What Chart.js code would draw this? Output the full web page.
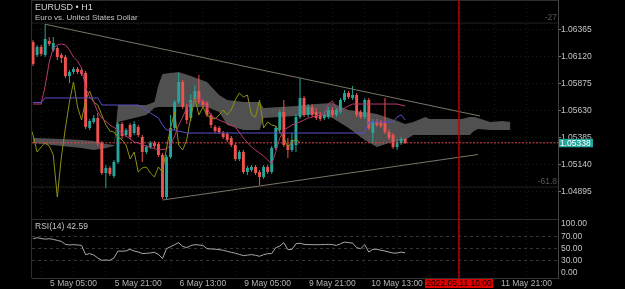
<!DOCTYPE html>
<html><head><meta charset="utf-8">
<script src="https://cdn.jsdelivr.net/npm/chart.js@4.4.1/dist/chart.umd.min.js"></script>
<style>
html,body{margin:0;padding:0;background:#000;overflow:hidden;}
#wrap{position:relative;width:625px;height:289px;background:#000;}
#c1{position:absolute;left:0;top:0;}
#c2{position:absolute;left:0;top:219px;}
</style></head><body>
<div id="wrap">
<canvas id="c1" width="625" height="219"></canvas>
<canvas id="c2" width="625" height="70"></canvas>
</div>
<script>
// ---------- DATA ----------
// bar index 0 = 5 May 05:00 (H1 bars); first visible candle is index -10 (4 May 19:00)
const firstBar = -10;
const opens = [1.06253,1.06135,1.06208,1.06135,1.06262,1.06180,1.06198,1.06135,1.06117,1.05944,
1.05981,1.06008,1.05999,1.05972,1.05473,1.05527,1.05563,1.05336,1.05064,1.05110,
1.05037,1.05164,1.05509,1.05409,1.05500,1.05427,1.05482,1.05391,1.05255,1.05300,
1.05336,1.05327,1.05228,1.04846,1.05209,1.05473,1.05708,1.05890,1.05663,1.05563,
1.05727,1.05808,1.05718,1.05699,1.05591,1.05482,1.05473,1.05427,1.05418,1.05382,
1.05318,1.05191,1.05255,1.05073,1.05091,1.05119,1.05073,1.05028,1.05119,1.05073,
1.05291,1.05454,1.05618,1.05318,1.05273,1.05318,1.05572,1.05745,1.05591,1.05663,
1.05618,1.05591,1.05563,1.05572,1.05636,1.05591,1.05618,1.05727,1.05790,1.05745,
1.05772,1.05618,1.05572,1.05727,1.05427,1.05527,1.05527,1.05518,1.05436,1.05409,
1.05300,1.05336,1.05373];
const highs = [1.06271,1.06226,1.06226,1.06416,1.06298,1.06298,1.06217,1.06153,1.06135,1.05999,
1.06026,1.06026,1.06017,1.05990,1.05554,1.05591,1.05609,1.05355,1.05137,1.05128,
1.05182,1.05527,1.05527,1.05473,1.05518,1.05536,1.05500,1.05409,1.05318,1.05355,
1.05355,1.05346,1.05246,1.05228,1.05591,1.05727,1.05972,1.05908,1.05690,1.05781,
1.05863,1.05953,1.05736,1.05718,1.05609,1.05500,1.05491,1.05445,1.05436,1.05400,
1.05336,1.05273,1.05273,1.05128,1.05137,1.05137,1.05091,1.05137,1.05137,1.05309,
1.05491,1.05636,1.05727,1.05382,1.05427,1.05600,1.05926,1.05763,1.05690,1.05690,
1.05654,1.05618,1.05618,1.05663,1.05663,1.05654,1.05745,1.05817,1.05808,1.05854,
1.05790,1.05636,1.05745,1.05745,1.05554,1.05554,1.05545,1.05745,1.05463,1.05427,
1.05373,1.05391,1.05382];
const lows = [1.06035,1.06117,1.06126,1.06117,1.06217,1.06162,1.06090,1.06062,1.05926,1.05881,
1.05963,1.05963,1.05944,1.05463,1.05454,1.05509,1.05309,1.05046,1.04928,1.05037,
1.05019,1.05146,1.05373,1.05391,1.05373,1.05409,1.05391,1.05164,1.05237,1.05282,
1.05291,1.05209,1.04828,1.04828,1.05191,1.05454,1.05690,1.05645,1.05509,1.05536,
1.05708,1.05690,1.05654,1.05572,1.05473,1.05427,1.05418,1.05373,1.05346,1.05300,
1.05173,1.05173,1.05055,1.05046,1.05073,1.05046,1.04955,1.05010,1.05055,1.05055,
1.05273,1.05427,1.05300,1.05200,1.05255,1.05255,1.05554,1.05572,1.05572,1.05572,
1.05545,1.05536,1.05545,1.05554,1.05572,1.05572,1.05600,1.05708,1.05736,1.05727,
1.05572,1.05554,1.05554,1.05454,1.05346,1.05482,1.05473,1.05418,1.05364,1.05282,
1.05273,1.05318,1.05327];
const closes = [1.06053,1.06208,1.06144,1.06280,1.06235,1.06244,1.06117,1.06108,1.05944,1.05981,
1.06008,1.05981,1.05963,1.05482,1.05536,1.05563,1.05336,1.05064,1.05110,1.05055,
1.05164,1.05509,1.05400,1.05454,1.05391,1.05509,1.05409,1.05255,1.05300,1.05336,
1.05309,1.05228,1.04846,1.05209,1.05473,1.05708,1.05890,1.05663,1.05545,1.05727,
1.05808,1.05708,1.05681,1.05591,1.05500,1.05445,1.05436,1.05391,1.05364,1.05318,
1.05191,1.05255,1.05073,1.05110,1.05119,1.05064,1.05028,1.05119,1.05073,1.05291,
1.05473,1.05618,1.05318,1.05273,1.05364,1.05572,1.05745,1.05591,1.05663,1.05591,
1.05563,1.05554,1.05591,1.05636,1.05591,1.05636,1.05727,1.05790,1.05754,1.05772,
1.05591,1.05572,1.05727,1.05473,1.05527,1.05500,1.05491,1.05436,1.05382,1.05300,
1.05346,1.05373,1.05338];

// Ichimoku lines (bar index -> price)
const tenkanIdx = [-10,-8,-7,-6,-5,-4,-3,-2,-1,0,1,2,3,4,5,6,7,9,11,13,15,16,18,21,23,24,25,26,27,28,29,30,32,33,34,36,40,42,44,47,49,50,51,52,54,56,58,60,62,63,64,65,66,67,69,78,80,82];
const tenkanVal = [1.05690,1.05690,1.05854,1.06071,1.06198,1.06226,1.06235,1.06226,1.06180,1.06116,
1.06080,1.06017,1.05835,1.05754,1.05708,1.05618,1.05563,1.05500,1.05454,1.05400,
1.05346,1.05336,1.05309,1.05273,1.05282,1.05318,1.05400,1.05500,1.05572,1.05654,
1.05699,1.05727,1.05727,1.05663,1.05581,1.05545,1.05482,1.05382,1.05300,1.05218,
1.05145,1.05255,1.05382,1.05454,1.05500,1.05527,1.05563,1.05581,1.05600,1.05690,
1.05717,1.05654,1.05627,1.05654,1.05690,1.05690,1.05690,1.05672];
const kijunIdx = [-10,-8,-7,6,7,16,19,21,22,23,25,28,72,73,79,80,81,82];
const kijunVal = [1.05704,1.05704,1.05745,1.05745,1.05681,1.05681,1.05609,1.05563,1.05500,1.05454,1.05454,1.05427,1.05427,1.05527,1.05527,1.05572,1.05591,1.05545];
const cloudIdx = [-10,-3,2,5,8,10,11,18,20,21,22,26,29,33,36,38,42,46,47,55,60,64,68,72,75,78,82,84,87,88,96,98,99,100,103,106,108];
const spanA = [1.05382,1.05373,1.05364,1.05355,1.05327,1.05318,1.05681,1.05681,1.05708,1.05863,
1.05963,1.05981,1.05944,1.05890,1.05772,1.05727,1.05708,1.05708,1.05654,1.05672,
1.05690,1.05699,1.05636,1.05618,1.05600,1.05563,1.05509,1.05527,1.05572,1.05554,
1.05554,1.05572,1.05572,1.05563,1.05527,1.05536,1.05527];
const spanB = [1.05336,1.05309,1.05291,1.05273,1.05291,1.05309,1.05527,1.05591,1.05654,1.05663,
1.05663,1.05663,1.05663,1.05663,1.05618,1.05500,1.05454,1.05454,1.05563,1.05581,
1.05600,1.05563,1.05473,1.05364,1.05300,1.05336,1.05364,1.05409,1.05409,1.05409,
1.05409,1.05409,1.05445,1.05463,1.05454,1.05454,1.05454];
const chikouShift = 26; // Chikou span = closes plotted 26 bars back

// RSI(14), one value per bar
const rsi = [66.6,68.3,67.0,65.9,66.6,65.5,63.7,62.0,57.0,56.0,
56.5,56.0,55.3,39.6,41.3,39.0,34.0,30.0,30.5,30.0,
33.9,45.7,45.4,46.0,48.6,45.7,44.0,41.5,41.8,42.5,
43.5,40.1,32.9,49.7,53.0,56.5,59.9,53.6,51.4,55.0,
56.5,56.0,55.3,49.7,49.3,48.8,48.1,47.0,45.2,43.5,
42.0,40.0,37.9,38.8,39.6,38.5,36.8,39.5,41.3,41.3,
51.4,54.1,59.9,48.1,48.6,58.0,59.0,57.0,56.7,56.5,
56.5,56.5,56.8,57.0,56.5,55.3,58.0,60.9,59.9,59.2,
51.4,49.7,56.5,44.0,48.6,48.6,47.0,45.7,44.0,42.3,
42.3,44.0,42.59];

// trend lines & levels
const upperTrendIdx = [-7, 100.5];
const upperTrendVal = [1.06414, 1.05581];
const lowerTrendIdx = [22, 100];
const lowerTrendVal = [1.04819, 1.05232];
const fibLevels = [1.06425, 1.04937];
const fibLabels = ['-27', '-61.8'];
const crosshairIdx = 95.3;
const crosshairLabel = '2022.05.11 10:00';

// axes
const priceTicks = [1.04895, 1.05140, 1.05385, 1.05630, 1.05875, 1.06120, 1.06365];
const rsiTicks = [0, 30, 50, 70, 100];
const gridIdx = [-8,0,8,16,24,32,40,48,56,64,72,80,88,96,104,112];
const xTickIdx = [0,16,32,48,64,80,112];
const xTickLabels = ['5 May 05:00','5 May 21:00','6 May 13:00','9 May 05:00','9 May 21:00','10 May 13:00','11 May 21:00'];

// ---------- CHART ----------
const FONT = '"Liberation Sans", Arial, sans-serif';
Chart.defaults.font.family = FONT;
Chart.defaults.font.size = 8.5;
const TEAL = '#26a69a', RED = '#ef5350';
const xMin = -10.26, xMax = 119.78;
const yMin = 1.046468, yMax = 1.06634;
const lastPrice = closes[closes.length - 1];

const barX = k => firstBar + k;
const colors = closes.map((c, k) => c >= opens[k] ? TEAL : RED);
const pts = (ix, vals) => ix.map((x, i) => ({x, y: vals[i]}));

const lineDs = (data, color, order, extra) => Object.assign({
  type: 'line', data, borderColor: color, borderWidth: 1, pointRadius: 0,
  fill: false, tension: 0, order
}, extra || {});

const mainDatasets = [
  lineDs(pts([xMin, xMax], [lastPrice, lastPrice]), '#e0484f', 0, {borderDash: [2, 1.5]}),
  lineDs(pts(tenkanIdx, tenkanVal), '#b8386f', 1),
  lineDs(pts(kijunIdx, kijunVal), '#5a4fc8', 1),
  lineDs(closes.map((c, k) => ({x: barX(k) - chikouShift, y: c})), '#8f8f12', 1),
  lineDs(pts(upperTrendIdx, upperTrendVal), '#7d7568', 2),
  lineDs(pts(lowerTrendIdx, lowerTrendVal), '#7d7568', 2),
  lineDs(pts([xMin, xMax], [fibLevels[0], fibLevels[0]]), '#222222', 9),
  lineDs(pts([xMin, xMax], [fibLevels[1], fibLevels[1]]), '#222222', 9),
  {type: 'bar', data: closes.map((c, k) => ({x: barX(k), y: [opens[k], c]})),
   backgroundColor: colors, grouped: false, maxBarThickness: 3, minBarLength: 1, borderWidth: 0, order: 4},
  {type: 'bar', data: closes.map((c, k) => ({x: barX(k), y: [lows[k], highs[k]]})),
   backgroundColor: colors, grouped: false, maxBarThickness: 1, borderWidth: 0, order: 5},
  lineDs(pts(cloudIdx, spanA), 'rgba(0,0,0,0)', 10, {borderWidth: 0, fill: '+1', backgroundColor: 'rgba(100,100,100,0.8)'}),
  lineDs(pts(cloudIdx, spanB), 'rgba(0,0,0,0)', 11, {borderWidth: 0})
];

const overlayMain = {
  id: 'overlayMain',
  afterDraw(chart) {
    const {ctx, chartArea: a, scales: {x, y}} = chart;
    ctx.save();
    ctx.strokeStyle = '#2e2e2e'; ctx.lineWidth = 1;
    ctx.beginPath();
    ctx.moveTo(a.left - 0.5, 0); ctx.lineTo(a.left - 0.5, a.bottom);
    ctx.moveTo(a.left, 0.5); ctx.lineTo(a.right, 0.5);
    ctx.stroke();
    // crosshair
    const cx = x.getPixelForValue(crosshairIdx);
    ctx.strokeStyle = '#c00000'; ctx.lineWidth = 1.5;
    ctx.beginPath(); ctx.moveTo(cx, a.top); ctx.lineTo(cx, a.bottom); ctx.stroke();
    // fib labels
    ctx.font = '8.5px ' + FONT; ctx.fillStyle = '#555555';
    ctx.textAlign = 'right'; ctx.textBaseline = 'bottom';
    fibLevels.forEach((v, i) => ctx.fillText(fibLabels[i], a.right - 1, y.getPixelForValue(v) - 1));
    // current price label
    const py = y.getPixelForValue(lastPrice);
    ctx.fillStyle = TEAL; ctx.fillRect(a.right + 1, py - 4, 34, 8.5);
    ctx.fillStyle = '#ffffff'; ctx.textAlign = 'left'; ctx.textBaseline = 'middle';
    ctx.fillText(lastPrice.toFixed(5), a.right + 2, py + 0.5);
    // header
    ctx.textBaseline = 'alphabetic';
    ctx.font = '9px ' + FONT; ctx.fillStyle = '#d4d4d4';
    ctx.fillText('EURUSD \u2022 H1', 35, 10);
    ctx.font = '8px ' + FONT; ctx.fillStyle = '#c4c4c4';
    ctx.fillText('Euro vs. United States Dollar', 35, 20);
    ctx.restore();
  }
};

new Chart(document.getElementById('c1'), {
  type: 'bar',
  data: {datasets: mainDatasets},
  options: {
    responsive: false, animation: false, events: [],
    layout: {padding: {left: 32, top: 0, right: 0, bottom: 0}},
    plugins: {legend: {display: false}, tooltip: {enabled: false}},
    scales: {
      x: {type: 'linear', min: xMin, max: xMax, offset: false,
        afterBuildTicks: s => { s.ticks = gridIdx.map(v => ({value: v})); },
        ticks: {display: false},
        grid: {color: '#191919', drawTicks: false, offset: false},
        border: {display: false, dash: [1, 3]},
        afterFit: s => { s.height = 0; s.paddingLeft = 0; s.paddingRight = 0; }
      },
      y: {type: 'linear', position: 'right', min: yMin, max: yMax,
        afterBuildTicks: s => { s.ticks = priceTicks.map(v => ({value: v})); },
        ticks: {color: '#c4c4c4', padding: 0, callback: v => v.toFixed(5), font: {size: 8.5}},
        grid: {color: '#191919', tickLength: 3, tickColor: '#777'},
        border: {display: true, color: '#444', dash: [1, 3]},
        afterFit: s => { s.width = 67; s.paddingTop = 0; s.paddingBottom = 0; }
      }
    }
  },
  plugins: [overlayMain]
});

const overlayRsi = {
  id: 'overlayRsi',
  afterDraw(chart) {
    const {ctx, chartArea: a, scales: {x, y}} = chart;
    ctx.save();
    ctx.strokeStyle = '#2e2e2e'; ctx.lineWidth = 1;
    ctx.beginPath();
    ctx.moveTo(a.left - 0.5, 0); ctx.lineTo(a.left - 0.5, a.bottom);
    ctx.moveTo(a.left, 0.5); ctx.lineTo(a.right, 0.5);
    ctx.stroke();
    // RSI tick labels (100 / 0 kept inside the pane)
    ctx.font = '8.5px ' + FONT; ctx.fillStyle = '#c4c4c4';
    ctx.textAlign = 'left'; ctx.textBaseline = 'middle';
    rsiTicks.forEach(v => {
      let py = y.getPixelForValue(v);
      py = Math.min(Math.max(py, a.top + 4.7), a.bottom - 5.7);
      ctx.fillText(v.toFixed(2), a.right + 3, py);
    });
    // title
    ctx.fillStyle = '#c4c4c4'; ctx.textBaseline = 'alphabetic';
    ctx.font = '8.5px ' + FONT;
    ctx.fillText('RSI(14) ' + rsi[rsi.length - 1].toFixed(2), 35, 10);
    // crosshair
    const cx = x.getPixelForValue(crosshairIdx);
    ctx.strokeStyle = '#c00000'; ctx.lineWidth = 1.5;
    ctx.beginPath(); ctx.moveTo(cx, 0); ctx.lineTo(cx, a.bottom); ctx.stroke();
    ctx.fillStyle = '#e00000';
    ctx.fillRect(cx - 34, a.bottom + 1, 68, 9);
    ctx.fillStyle = '#000'; ctx.textAlign = 'center'; ctx.textBaseline = 'middle';
    ctx.fillText(crosshairLabel, cx, a.bottom + 5.8);
    ctx.restore();
  }
};

new Chart(document.getElementById('c2'), {
  type: 'line',
  data: {datasets: [
    lineDs(rsi.map((v, k) => ({x: barX(k), y: v})), '#a8a8a8', 0)
  ]},
  options: {
    responsive: false, animation: false, events: [],
    layout: {padding: {left: 32, top: 0, right: 0, bottom: 0}},
    plugins: {legend: {display: false}, tooltip: {enabled: false}},
    scales: {
      x: {type: 'linear', min: xMin, max: xMax, offset: false,
        afterBuildTicks: s => { s.ticks = gridIdx.map(v => ({value: v})); },
        ticks: {color: '#b4b4b4', padding: 1, maxRotation: 0, minRotation: 0, autoSkip: false,
          callback: v => { const i = xTickIdx.indexOf(v); return i >= 0 ? xTickLabels[i] : ''; }},
        grid: {color: '#191919', drawTicks: false},
        border: {display: true, color: '#333', dash: [1, 3]},
        afterFit: s => { s.height = 11; s.paddingLeft = 0; s.paddingRight = 0; }
      },
      y: {type: 'linear', position: 'right', min: 0, max: 100,
        afterBuildTicks: s => { s.ticks = rsiTicks.map(v => ({value: v})); },
        ticks: {display: false},
        grid: {color: c => (c.tick && [30, 50, 70].includes(c.tick.value)) ? '#343434' : 'rgba(0,0,0,0)', drawTicks: false},
        border: {display: true, color: '#444', dash: [3, 3]},
        afterFit: s => { s.width = 67; s.paddingTop = 0; s.paddingBottom = 0; }
      }
    }
  },
  plugins: [overlayRsi]
});
</script>
</body></html>
